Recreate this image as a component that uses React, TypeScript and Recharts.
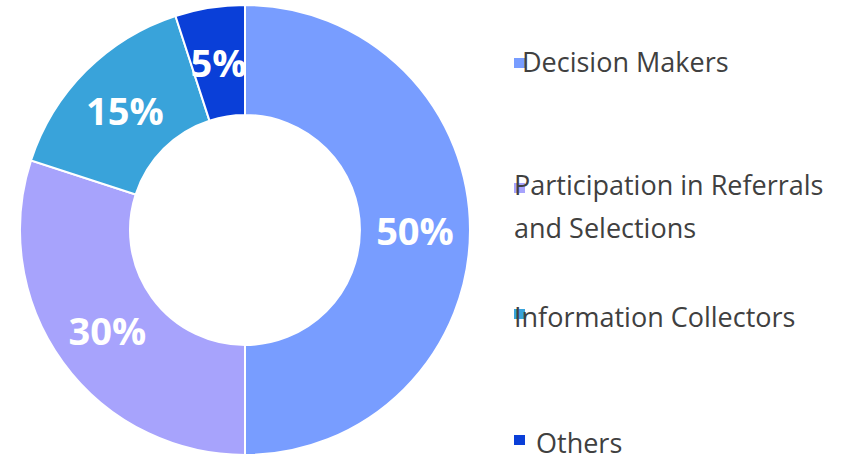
import { PieChart, Pie, Cell } from "recharts";

const categories = [
  "Decision Makers",
  "Participation in Referrals and Selections",
  "Information Collectors",
  "Others",
];
const shares = [50, 30, 15, 5];
const colors = ["#789dff", "#a7a3fc", "#39a3da", "#0a3fd8"];

const legendLines = [
  ["Decision Makers"],
  ["Participation in Referrals", "and Selections"],
  ["Information Collectors"],
  ["Others"],
];

const RADIAN = Math.PI / 180;

const data = categories.map((name, i) => ({ name, value: shares[i] }));

function renderLabel(props: any) {
  const { cx, cy, midAngle, innerRadius, outerRadius, value } = props;
  const r = (innerRadius + outerRadius) / 2;
  const x = cx + r * Math.cos(-midAngle * RADIAN);
  const y = cy + r * Math.sin(-midAngle * RADIAN);
  return (
    <text
      x={x}
      y={y}
      fill="#ffffff"
      textAnchor="middle"
      dominantBaseline="central"
      fontFamily="'Open Sans', sans-serif"
      fontWeight={700}
      fontSize={38}
    >
      {value}%
    </text>
  );
}

// legend markers sit a bit oddly over the text, same as the source
const legendPos = [
  { tops: [47], textLeft: 522, boxTop: 58 },
  { tops: [170, 213], textLeft: 514, boxTop: 183 },
  { tops: [302], textLeft: 514, boxTop: 309 },
  { tops: [428], textLeft: 536, boxTop: 435 },
];

export default function App() {
  return (
    <div
      style={{
        position: "fixed",
        left: 0,
        top: 0,
        width: 853,
        height: 459,
        background: "#ffffff",
        fontFamily: "'Open Sans', sans-serif",
        overflow: "hidden",
      }}
    >
      <PieChart width={853} height={459} margin={{ top: 0, right: 0, bottom: 0, left: 0 }}>
        <Pie
          data={data}
          dataKey="value"
          nameKey="name"
          cx={245}
          cy={230}
          innerRadius={115}
          outerRadius={225}
          startAngle={90}
          endAngle={-270}
          stroke="#ffffff"
          strokeWidth={2}
          label={renderLabel}
          labelLine={false}
          isAnimationActive={false}
        >
          {data.map((d, i) => (
            <Cell key={d.name} fill={colors[i]} />
          ))}
        </Pie>
      </PieChart>
      {legendLines.map((lines, i) => (
        <div key={categories[i]}>
          <div
            style={{
              position: "absolute",
              left: 514,
              top: legendPos[i].boxTop,
              width: 11,
              height: 10,
              background: colors[i],
            }}
          />
          {lines.map((l, j) => (
            <div
              key={l}
              style={{
                position: "absolute",
                left: legendPos[i].textLeft,
                top: legendPos[i].tops[j],
                fontSize: 27,
                lineHeight: "30px",
                color: "#404040",
                whiteSpace: "nowrap",
              }}
            >
              {l}
            </div>
          ))}
        </div>
      ))}
    </div>
  );
}
